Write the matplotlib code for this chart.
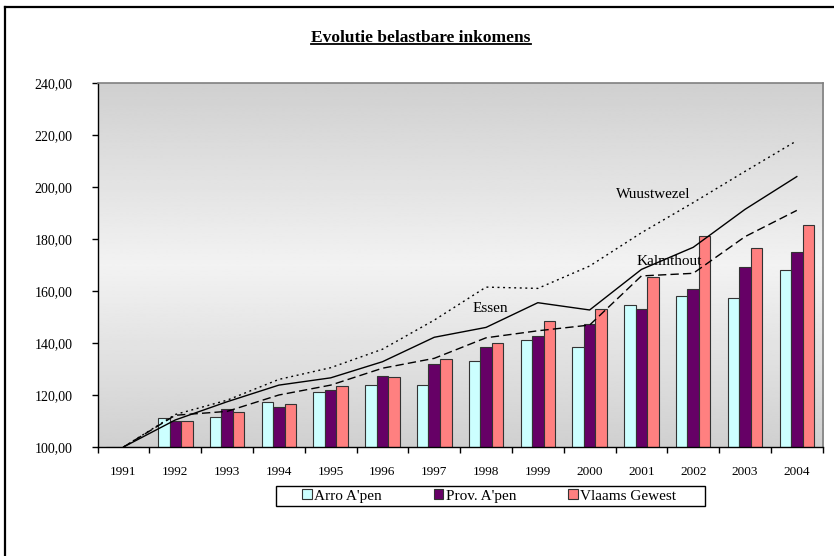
import numpy as np
import matplotlib
matplotlib.use("Agg")
import matplotlib.pyplot as plt
from matplotlib.patches import Rectangle, Patch
from matplotlib.lines import Line2D

plt.rcParams['font.family'] = ['Liberation Serif', 'DejaVu Serif']

# data
years = ['1991', '1992', '1993', '1994', '1995', '1996', '1997',
         '1998', '1999', '2000', '2001', '2002', '2003', '2004']
arro = [100.0, 111.3, 111.4, 117.2, 121.0, 124.0, 123.8,
        133.2, 141.0, 138.6, 154.8, 158.0, 157.3, 168.0]
prov = [100.0, 110.0, 114.6, 115.4, 122.0, 127.3, 131.9,
        138.6, 142.7, 147.4, 153.0, 160.9, 169.2, 175.1]
vlaams = [100.0, 109.9, 113.3, 116.5, 123.3, 126.9, 133.8,
          140.0, 148.6, 153.2, 165.4, 181.0, 176.5, 185.3]
wuustwezel = [100.0, 112.5, 118.0, 126.0, 130.5, 137.6, 148.8,
              161.5, 161.0, 169.6, 182.4, 194.0, 206.0, 217.8]
essen = [100.0, 110.4, 117.4, 123.8, 126.6, 132.8, 142.2,
         146.0, 155.5, 152.7, 168.3, 176.8, 191.4, 204.0]
kalmthout = [100.0, 112.2, 113.7, 120.0, 123.8, 130.3, 134.1,
             142.0, 144.7, 146.9, 165.8, 166.8, 180.9, 191.0]
yticks = [100, 120, 140, 160, 180, 200, 220, 240]

c_arro = '#ccffff'
c_prov = '#660066'
c_vlaams = '#ff8080'

fig = plt.figure(figsize=(8.34, 5.56), dpi=100)
W, H = 834, 556
ax = fig.add_axes([97.6 / W, 1 - 447 / H, (822.7 - 97.6) / W, (447 - 83) / H])

x = np.arange(len(years))
ax.set_xlim(-0.5, len(years) - 0.5)
ax.set_ylim(100, 240)

# reflected grey gradient for the plot area
t = np.linspace(-1, 1, 256)
grad = 0.815 + (0.95 - 0.815) * (1 - np.abs(t))
ax.imshow(grad[:, None], extent=(-0.5, len(years) - 0.5, 100, 240),
          aspect='auto', cmap='gray', vmin=0, vmax=1, zorder=0,
          origin='upper', interpolation='bilinear')

w = 1 / 4.5
kw = dict(width=w, edgecolor='#333333', linewidth=0.8, zorder=2)
ax.bar(x - w, arro, color=c_arro, **kw)
ax.bar(x, prov, color=c_prov, **kw)
ax.bar(x + w, vlaams, color=c_vlaams, **kw)

ax.plot(x, wuustwezel, color='black', lw=1.0, ls=(0, (1.4, 2.6)), zorder=3)
ax.plot(x, essen, color='black', lw=1.0, ls='-', zorder=3)
ax.plot(x, kalmthout, color='black', lw=1.0, ls=(0, (6, 3)), zorder=3)

ax.text(7.08, 153.3, 'Essen', fontsize=11, ha='center', va='center', zorder=4)
ax.text(10.23, 197.1, 'Wuustwezel', fontsize=11, ha='center', va='center', zorder=4)
ax.text(10.54, 171.4, 'Kalmthout', fontsize=11, ha='center', va='center', zorder=4)

# axes styling
for side in ['top', 'right']:
    ax.spines[side].set_color('#808080')
    ax.spines[side].set_linewidth(1.2)
for side in ['left', 'bottom']:
    ax.spines[side].set_color('black')
    ax.spines[side].set_linewidth(1.0)

ax.set_yticks(yticks)
ax.set_yticklabels(['%d,00' % v for v in yticks])
ax.tick_params(axis='y', direction='out', length=4, width=1, pad=14,
               labelsize=10)

ax.set_xticks(x)
ax.set_xticklabels(years)
ax.set_xticks(np.arange(-0.5, len(years)), minor=True)
ax.tick_params(axis='x', which='major', length=0, pad=14, labelsize=9.5)
ax.tick_params(axis='x', which='minor', direction='out', length=4, width=1)

# legend (frame drawn separately)
handles = [Patch(facecolor=c, edgecolor='#333333', linewidth=0.8)
           for c in (c_arro, c_prov, c_vlaams)]
leg = fig.legend(handles, ["Arro A'pen", "Prov. A'pen", 'Vlaams Gewest'],
                 loc='center', bbox_to_anchor=(489 / W, 1 - 496 / H),
                 ncol=3, frameon=False, fontsize=11, handlelength=0.65,
                 handleheight=0.65, handletextpad=0.15, columnspacing=3.4)
fig.add_artist(Rectangle((276 / W, 1 - 506 / H), (705 - 276) / W, 20 / H,
                         transform=fig.transFigure, fill=False,
                         edgecolor='black', linewidth=1.0))

# title with underline
title = fig.text(421 / W, 1 - 38 / H, 'Evolutie belastbare inkomens',
                 fontsize=12.5, fontweight='bold', ha='center', va='center')
fig.canvas.draw()
bb = title.get_window_extent().transformed(fig.transFigure.inverted())
fig.add_artist(Line2D([bb.x0, bb.x1], [bb.y0 + 1.5 / H, bb.y0 + 1.5 / H],
                      transform=fig.transFigure, color='black', lw=1.3))

# outer frame (top and left edges visible)
fig.add_artist(Line2D([5 / W, 1.0], [1 - 7 / H, 1 - 7 / H],
                      transform=fig.transFigure, color='black', lw=1.6))
fig.add_artist(Line2D([5 / W, 5 / W], [1 - 7 / H, 0.0],
                      transform=fig.transFigure, color='black', lw=1.6))

fig.savefig('out.png', dpi=100)
